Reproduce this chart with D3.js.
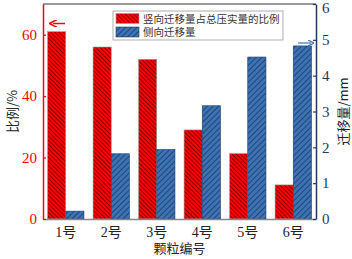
<!DOCTYPE html>
<html>
<head>
<meta charset="utf-8">
<script src="https://cdn.jsdelivr.net/npm/d3@7"></script>
<style>
  body { margin: 0; background: #fff; }
  svg text { font-family: "Liberation Serif", "Noto Sans CJK SC", serif; }
  .cjk { font-family: "Noto Sans CJK SC", sans-serif; }
</style>
</head>
<body>
<div id="chart"></div>
<script>
// data
let particles = ["1号", "2号", "3号", "4号", "5号", "6号"];
let ratio = [61, 56, 52, 29, 21.3, 11.1];          // 竖向迁移量占总压实量的比例 (%)
let lateral = [0.22, 1.82, 1.94, 3.16, 4.52, 4.83]; // 侧向迁移量 (mm)
let leftTicks = [0, 20, 40, 60];
let rightTicks = [0, 1, 2, 3, 4, 5, 6];
let seriesNames = ["竖向迁移量占总压实量的比例", "侧向迁移量"];

let margin = { left: 43, right: 36, top: 4, bottom: 40 };
let width = 352, height = 259;
let chart_width = width - margin.left - margin.right;
let chart_height = height - margin.top - margin.bottom;

let red = "#ff0000", blue = "#3d72b4", navy = "#1d3a63";

let svg = d3.select("#chart").append("svg")
  .attr("width", width).attr("height", height);

// hatch patterns
let defs = svg.append("defs");
let pr = defs.append("pattern").attr("id", "hatchRed")
  .attr("patternUnits", "userSpaceOnUse").attr("width", 3).attr("height", 3)
  .attr("patternTransform", "rotate(-45)");
pr.append("rect").attr("width", 3).attr("height", 3).attr("fill", red);
pr.append("line").attr("x1", 0.5).attr("y1", 0).attr("x2", 0.5).attr("y2", 3)
  .attr("stroke", "#7a0000").attr("stroke-width", 0.9);
let pb = defs.append("pattern").attr("id", "hatchBlue")
  .attr("patternUnits", "userSpaceOnUse").attr("width", 4).attr("height", 4)
  .attr("patternTransform", "rotate(45)");
pb.append("rect").attr("width", 4).attr("height", 4).attr("fill", blue);
pb.append("line").attr("x1", 0.5).attr("y1", 0).attr("x2", 0.5).attr("y2", 4)
  .attr("stroke", "#1c3a66").attr("stroke-width", 0.8);

let g = svg.append("g").attr("transform", `translate(${margin.left},${margin.top})`);

let x = d3.scaleBand().domain(particles).range([0, chart_width]).paddingInner(0.2).paddingOuter(0.1);
let xs = d3.scaleBand().domain([0, 1]).range([0, x.bandwidth()]);
let yL = d3.scaleLinear().domain([0, 70]).range([chart_height, 0]);
let yR = d3.scaleLinear().domain([0, 6]).range([chart_height, 0]);

// bars
g.append("g").selectAll("rect").data(particles).enter().append("rect")
  .attr("x", (d) => x(d) + xs(0))
  .attr("y", (d, i) => yL(ratio[i]))
  .attr("width", xs.bandwidth())
  .attr("height", (d, i) => chart_height - yL(ratio[i]))
  .attr("fill", "url(#hatchRed)")
  .attr("stroke", "#a0a0a0").attr("stroke-width", 0.6);

g.append("g").selectAll("rect").data(particles).enter().append("rect")
  .attr("x", (d) => x(d) + xs(1))
  .attr("y", (d, i) => yR(lateral[i]))
  .attr("width", xs.bandwidth())
  .attr("height", (d, i) => chart_height - yR(lateral[i]))
  .attr("fill", "url(#hatchBlue)")
  .attr("stroke", navy).attr("stroke-width", 0.6);

// top frame
g.append("line").attr("x1", 0).attr("x2", chart_width).attr("y1", 0).attr("y2", 0)
  .attr("stroke", "#777").attr("stroke-width", 1.5);

// bottom axis
let xAxis = g.append("g").attr("transform", `translate(0,${chart_height})`)
  .call(d3.axisBottom(x).tickSize(0).tickPadding(8));
xAxis.select(".domain").attr("stroke", "#888").attr("stroke-width", 1.5);
xAxis.selectAll("text").attr("fill", "#222").style("font-size", "14px")
  .style("font-family", "'Liberation Serif', 'Noto Sans CJK SC', serif");

// left axis
let lAxis = g.append("g")
  .call(d3.axisLeft(yL).tickValues(leftTicks).tickSize(-3).tickSizeOuter(0).tickPadding(6));
lAxis.select(".domain").attr("stroke", red).attr("stroke-width", 1.5);
lAxis.selectAll(".tick line").attr("stroke", red).attr("stroke-width", 1.2);
lAxis.selectAll("text").attr("fill", red).style("font-size", "15px");

// right axis
let rAxis = g.append("g").attr("transform", `translate(${chart_width},0)`)
  .call(d3.axisRight(yR).tickValues(rightTicks).tickFormat(d3.format("d"))
    .tickSize(-3).tickSizeOuter(0).tickPadding(6));
rAxis.select(".domain").attr("stroke", navy).attr("stroke-width", 1.5);
rAxis.selectAll(".tick line").attr("stroke", navy).attr("stroke-width", 1.2);
rAxis.selectAll("text").attr("fill", navy).style("font-size", "15px");
// keep the top label inside the picture
rAxis.selectAll(".tick text").filter((d) => d === 6).attr("dy", "0.55em");

// axis titles
svg.append("text").attr("class", "cjk")
  .attr("transform", `translate(17,${margin.top + chart_height / 2}) rotate(-90)`)
  .attr("text-anchor", "middle").style("font-size", "13px").attr("fill", "#222")
  .text("比例/%");
svg.append("text").attr("class", "cjk")
  .attr("transform", `translate(348,${margin.top + chart_height / 2}) rotate(-90)`)
  .attr("text-anchor", "middle").style("font-size", "13px").attr("fill", "#222")
  .text("迁移量/mm");
svg.append("text").attr("class", "cjk")
  .attr("x", margin.left + chart_width / 2).attr("y", 253)
  .attr("text-anchor", "middle").style("font-size", "13px").attr("fill", "#222")
  .text("颗粒编号");

// legend
let legend = svg.append("g").attr("transform", "translate(113,11)");
legend.append("rect").attr("width", 170).attr("height", 29)
  .attr("fill", "#fff").attr("stroke", "#999").attr("stroke-width", 0.8);
let fills = ["url(#hatchRed)", "url(#hatchBlue)"];
let strokes = ["#a0a0a0", navy];
seriesNames.forEach((name, i) => {
  legend.append("rect").attr("x", 3).attr("y", 2.5 + i * 13.5).attr("width", 23).attr("height", 10)
    .attr("fill", fills[i]).attr("stroke", strokes[i]).attr("stroke-width", 0.6);
  legend.append("text").attr("class", "cjk").attr("x", 30).attr("y", 11.5 + i * 13.5)
    .style("font-size", "10.5px").attr("fill", "#333").text(name);
});

// direction arrows
let arrows = defs.append("marker").attr("id", "headRed").attr("viewBox", "0 0 10 10")
  .attr("refX", 5).attr("refY", 5).attr("markerWidth", 5).attr("markerHeight", 5).attr("orient", "auto");
arrows.append("path").attr("d", "M0,0 L10,5 L0,10").attr("fill", "none").attr("stroke", red).attr("stroke-width", 2);
let arrowsB = defs.append("marker").attr("id", "headBlue").attr("viewBox", "0 0 10 10")
  .attr("refX", 5).attr("refY", 5).attr("markerWidth", 5).attr("markerHeight", 5).attr("orient", "auto");
arrowsB.append("path").attr("d", "M0,0 L10,5 L0,10").attr("fill", "none").attr("stroke", blue).attr("stroke-width", 2);

g.append("line").attr("x1", 22).attr("x2", 10).attr("y1", 19.5).attr("y2", 19.5)
  .attr("stroke", red).attr("stroke-width", 1.5).attr("marker-end", "url(#headRed)");
g.append("line").attr("x1", chart_width - 18).attr("x2", chart_width - 5).attr("y1", 39).attr("y2", 39)
  .attr("stroke", blue).attr("stroke-width", 1.2).attr("marker-end", "url(#headBlue)");
</script>
</body>
</html>
